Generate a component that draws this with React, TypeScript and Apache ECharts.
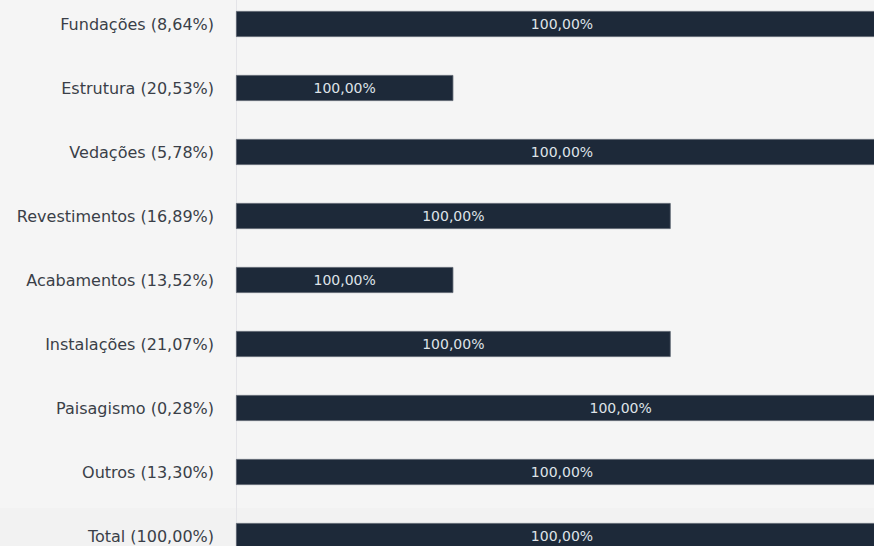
import React, { useEffect, useRef } from "react";
import * as echarts from "echarts";

const categories = [
  "Fundações (8,64%)",
  "Estrutura (20,53%)",
  "Vedações (5,78%)",
  "Revestimentos (16,89%)",
  "Acabamentos (13,52%)",
  "Instalações (21,07%)",
  "Paisagismo (0,28%)",
  "Outros (13,30%)",
  "Total (100,00%)",
];
const durations = [3, 1, 3, 2, 1, 2, 3.54, 3, 3];
const barLabels = [
  "100,00%",
  "100,00%",
  "100,00%",
  "100,00%",
  "100,00%",
  "100,00%",
  "100,00%",
  "100,00%",
  "100,00%",
];

const FONT = "'DejaVu Sans', sans-serif";

export default function App() {
  const ref = useRef<HTMLDivElement>(null);
  useEffect(() => {
    if (!ref.current) return;
    document.body.style.overflow = "hidden";
    const chart = echarts.init(ref.current, undefined, { renderer: "svg" });
    chart.setOption({
      animation: false,
      backgroundColor: "#f5f5f5",
      graphic: [
        {
          type: "rect",
          z: -10,
          silent: true,
          shape: { x: 0, y: 516, width: 888, height: 60 },
          style: { fill: "#f2f2f2" },
        },
      ],
      grid: { left: 236, right: 0, top: 0, bottom: 0 },
      xAxis: { type: "value", min: 0, max: 3, show: false },
      yAxis: {
        type: "category",
        inverse: true,
        data: categories,
        axisLine: { show: true, lineStyle: { color: "#e4e4e8", width: 1 } },
        axisTick: { show: false },
        splitLine: { show: false },
        axisLabel: {
          margin: 22,
          fontSize: 16,
          fontFamily: FONT,
          color: "#3a3f48",
        },
      },
      series: [
        {
          type: "bar",
          data: durations,
          clip: false,
          barWidth: 26,
          itemStyle: {
            color: "#1d2939",
            borderColor: "#58606c",
            borderWidth: 0.8,
          },
          label: {
            show: true,
            position: "inside",
            formatter: (p: any) => barLabels[p.dataIndex],
            color: "#dfe3e8",
            fontSize: 14,
            fontFamily: FONT,
          },
        },
      ],
    });
    return () => chart.dispose();
  }, []);
  return (
    <div
      ref={ref}
      style={{ position: "fixed", left: 0, top: -8, width: 888, height: 576 }}
    />
  );
}
